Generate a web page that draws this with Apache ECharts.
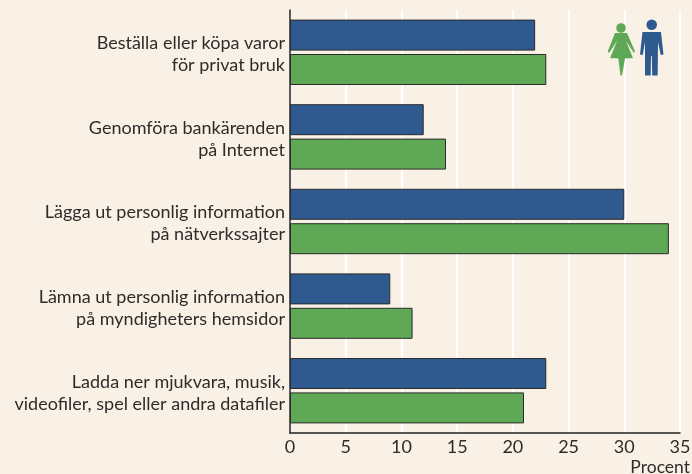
<!DOCTYPE html>
<html><head><meta charset="utf-8">
<script src="https://cdn.jsdelivr.net/npm/echarts@6/dist/echarts.min.js"></script>
<style>html,body{margin:0;padding:0;background:#F9F1E5}#c{width:692px;height:474px}</style>
</head><body><div id="c"></div>
<script>
const categories = [
 "Beställa eller köpa varor\nför privat bruk",
 "Genomföra bankärenden\npå Internet",
 "Lägga ut personlig information\npå nätverkssajter",
 "Lämna ut personlig information\npå myndigheters hemsidor",
 "Ladda ner mjukvara, musik,\nvideofiler, spel eller andra datafiler"
];
const men = [22, 12, 30, 9, 23];
const women = [23, 14, 34, 11, 21];
const xTicks = {min: 0, max: 35, interval: 5};
const FONT = "Lato";
const BLUE = "#2F5A8F", GREEN = "#5FA855", BORDER = "#2b2b2b", TXT = "#2e2c2b";
const chart = echarts.init(document.getElementById('c'), null, {renderer:'canvas'});
chart.setOption({
 animation:false,
 backgroundColor:"#F9F1E5",
 grid:{left:290,top:10,width:390,height:423,containLabel:false,outerBoundsMode:'none'},
 xAxis:{type:'value',...xTicks,
  axisLine:{show:true,lineStyle:{color:'#222',width:1.5}},
  axisTick:{show:false},
  axisLabel:{color:TXT,fontFamily:FONT,fontSize:18,margin:5},
  splitLine:{show:true,lineStyle:{color:'#ffffff',width:2}},
  name:'Procent',nameLocation:'end',nameGap:10,
  nameTextStyle:{color:TXT,fontFamily:FONT,fontSize:17.5,align:'right',verticalAlign:'top',padding:[25,0,0,0]}
 },
 yAxis:{type:'category',inverse:true,data:categories,
  axisLine:{show:true,lineStyle:{color:'#222',width:1.5}},
  axisTick:{show:false},
  axisLabel:{margin:5,align:'right',
   formatter:v=>v.split('\n').map(l=>'{a|'+l+'}').join('\n'),
   rich:{a:{color:TXT,fontFamily:FONT,fontSize:18,lineHeight:22,padding:[4,0,0,0]}}},
  splitLine:{show:false}
 },
 series:[
  {name:'Män',type:'bar',data:men,barWidth:31,barGap:'11%',itemStyle:{color:BLUE,borderColor:BORDER,borderWidth:1}},
  {name:'Kvinnor',type:'bar',data:women,barWidth:31,itemStyle:{color:GREEN,borderColor:BORDER,borderWidth:1}}
 ],
 graphic:[
  {type:'circle',z:50,shape:{cx:621,cy:28,r:4.8},style:{fill:GREEN}},
  {type:'polygon',z:50,shape:{points:[[615,33],[627,33],[635,51.5],[634,53],[626,41],[633,58.3],[625,58.3],[622,75.5],[620.5,75.5],[618.3,58.3],[610,58.3],[617,41],[609,53],[607.7,51.5]]},style:{fill:GREEN}},
  {type:'circle',z:50,shape:{cx:651.7,cy:24.7,r:5.3},style:{fill:BLUE}},
  {type:'polygon',z:50,shape:{points:[[642.5,32],[661,32],[663.5,54.5],[660.7,55],[658,42],[657.7,75.5],[652.2,75.5],[651.8,56],[651,56],[650.7,75.5],[645,75.5],[645,42],[642.7,55],[640,54.5]]},style:{fill:BLUE}}
 ]
});
</script></body></html>
